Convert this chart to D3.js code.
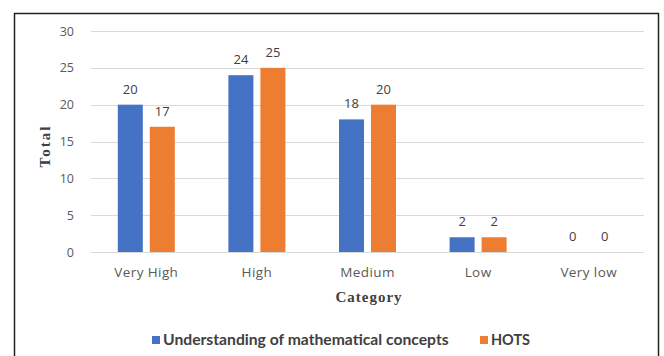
<!DOCTYPE html>
<html>
<head>
<meta charset="utf-8">
<script src="https://cdn.jsdelivr.net/npm/d3@7"></script>
<style>
  html, body { margin: 0; padding: 0; background: #fff; }
  svg { display: block; }
</style>
</head>
<body>
<script>
// Levels shown along the x axis
const categories = ["Very High", "High", "Medium", "Low", "Very low"];
// Series names and their values per level
const seriesNames = ["Understanding of mathematical concepts", "HOTS"];
const understandingValues = [20, 24, 18, 2, 0];
const hotsValues = [17, 25, 20, 2, 0];
const yTicks = [0, 5, 10, 15, 20, 25, 30];
const colors = ["#4472C4", "#ED7D31"];

const W = 664, H = 356;
const plot = { left: 91, right: 644, top: 31, bottom: 252 };

const svg = d3.select("body").append("svg").attr("width", W).attr("height", H);

// Chart frame
svg.append("rect")
  .attr("x", 14.5).attr("y", 13.5)
  .attr("width", 644).attr("height", 360)
  .attr("fill", "#fff").attr("stroke", "#222").attr("stroke-width", 1.5);

const x = d3.scaleBand().domain(categories).range([plot.left, plot.right]);
const y = d3.scaleLinear().domain([0, 30]).range([plot.bottom, plot.top]);
const barW = 25, gap = 7;
const xs = d3.scaleOrdinal().domain(seriesNames)
  .range([-(barW + gap / 2), gap / 2]);

// Gridlines
svg.append("g").selectAll("line").data(yTicks).join("line")
  .attr("x1", plot.left).attr("x2", plot.right)
  .attr("y1", d => Math.round(y(d)) + 0.5).attr("y2", d => Math.round(y(d)) + 0.5)
  .attr("stroke", "#d9d9d9").attr("stroke-width", 1);

// Y axis labels
const yAxis = d3.axisLeft(y).tickValues(yTicks).tickSize(0).tickPadding(0);
const gy = svg.append("g").attr("transform", `translate(${74},0)`).call(yAxis);
gy.select(".domain").remove();
gy.selectAll("text")
  .attr("font-family", "'Open Sans', 'Noto Sans', sans-serif")
  .attr("font-size", 12.5).attr("fill", "#595959");

// X axis labels
const xAxis = d3.axisBottom(x).tickSize(0).tickPadding(0);
const gx = svg.append("g").attr("transform", `translate(0,${267})`).call(xAxis);
gx.select(".domain").remove();
gx.selectAll("text")
  .attr("font-family", "'Open Sans', 'Noto Sans', sans-serif")
  .attr("font-size", 13.5).attr("letter-spacing", 0.4).attr("fill", "#595959");

// Bars
const data = seriesNames.map((name, i) => ({
  name,
  color: colors[i],
  values: (i === 0 ? understandingValues : hotsValues).map((v, j) => ({ cat: categories[j], v }))
}));

const groups = svg.append("g").selectAll("g").data(data).join("g")
  .attr("fill", d => d.color);

groups.selectAll("rect").data(d => d.values.map(e => ({ ...e, name: d.name }))).join("rect")
  .attr("x", d => x(d.cat) + x.bandwidth() / 2 + xs(d.name))
  .attr("y", d => y(d.v))
  .attr("width", barW)
  .attr("height", d => y(0) - y(d.v));

// Value labels
groups.selectAll("text").data(d => d.values.map(e => ({ ...e, name: d.name }))).join("text")
  .attr("x", d => x(d.cat) + x.bandwidth() / 2 + xs(d.name) + barW / 2)
  .attr("y", d => y(d.v) - 11)
  .attr("text-anchor", "middle")
  .attr("font-family", "'Open Sans', 'Noto Sans', sans-serif")
  .attr("font-size", 13).attr("fill", "#404040")
  .text(d => d.v);

// Axis titles
svg.append("text")
  .attr("transform", `translate(50,${146}) rotate(-90)`)
  .attr("text-anchor", "middle")
  .attr("font-family", "'Liberation Serif', 'DejaVu Serif', serif")
  .attr("font-weight", "bold").attr("font-size", 15).attr("letter-spacing", 2)
  .attr("fill", "#404040")
  .text("Total");

svg.append("text")
  .attr("x", 369).attr("y", 302)
  .attr("text-anchor", "middle")
  .attr("font-family", "'Liberation Serif', 'DejaVu Serif', serif")
  .attr("font-weight", "bold").attr("font-size", 15).attr("letter-spacing", 1)
  .attr("fill", "#404040")
  .text("Category");

// Legend
const legend = svg.append("g").attr("font-family", "Lato, 'Open Sans', sans-serif")
  .attr("font-weight", "bold").attr("fill", "#404040");
const legendX = [152, 480];
const legendTextW = [286, 39];
data.forEach((d, i) => {
  legend.append("rect").attr("x", legendX[i]).attr("y", 336).attr("width", 8).attr("height", 8).attr("fill", d.color);
  const t = legend.append("text").attr("x", legendX[i] + 11).attr("y", 345)
    .attr("font-size", 14).text(d.name);
  const w = t.node().getComputedTextLength();
  t.attr("font-size", 14 * legendTextW[i] / w);
});
</script>
</body>
</html>
